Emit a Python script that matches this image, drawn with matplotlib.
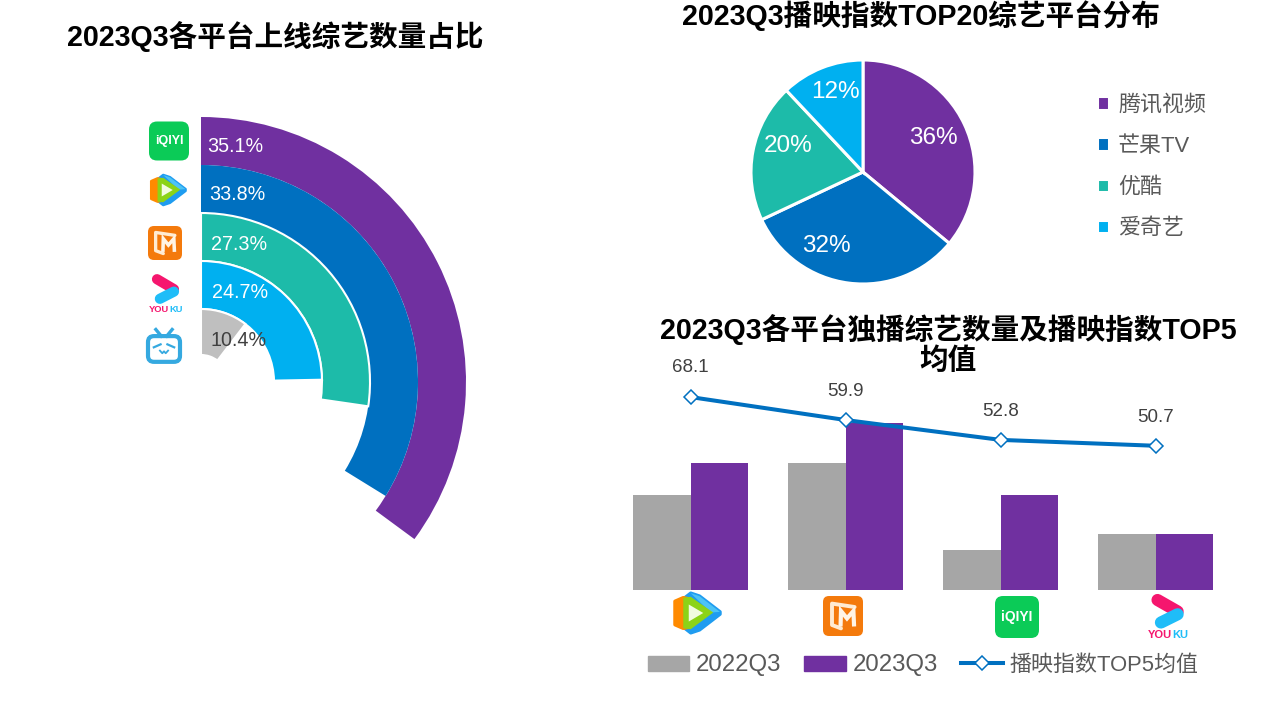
import numpy as np
import matplotlib
matplotlib.use("Agg")
import matplotlib.pyplot as plt
from matplotlib.patches import FancyBboxPatch, Polygon, Patch
from matplotlib.lines import Line2D

plt.rcParams['font.family'] = ['Liberation Sans', 'Noto Sans CJK SC', 'DejaVu Sans']

W, H = 1278, 704

PURPLE = '#7030A0'
BLUE = '#0070C0'
TEAL = '#1DBBA9'
CYAN = '#00B0F0'
LIGHT = '#BFBFBF'
BAR_GRAY = '#A6A6A6'

# radial chart
radial_values = [35.1, 33.8, 27.3, 24.7, 10.4]
radial_colors = [PURPLE, BLUE, TEAL, CYAN, LIGHT]
radial_text = ['white', 'white', 'white', 'white', '#404040']

# pie chart
pie_labels = ['腾讯视频', '芒果TV', '优酷', '爱奇艺']
pie_values = [36, 32, 20, 12]
pie_colors = [PURPLE, BLUE, TEAL, CYAN]

# bars + line
bar_years = ['2022Q3', '2023Q3']
bar_2022 = [12, 16, 5, 7]
bar_2023 = [16, 21, 12, 7]
top5_avg = [68.1, 59.9, 52.8, 50.7]
line_label = '播映指数TOP5均值'

titles = ['2023Q3各平台上线综艺数量占比', '2023Q3播映指数TOP20综艺平台分布',
          '2023Q3各平台独播综艺数量及播映指数TOP5\n均值']


def px_axes(left, top, right, bottom, **kw):
    return fig.add_axes([left / W, 1 - bottom / H, (right - left) / W, (bottom - top) / H], **kw)


def logo_iqiyi(ax, cx, cy, w, h):
    ax.add_patch(FancyBboxPatch((cx - w / 2 + 5, cy - h / 2 + 5), w - 10, h - 10,
                                boxstyle='round,pad=5,rounding_size=8', fc='#0BCB57', ec='none'))
    ax.text(cx, cy, 'iQIYI', color='white', fontweight='bold', fontsize=w * 0.225,
            ha='center', va='center')


def logo_tencent(ax, cx, cy, w, h):
    def pts(p):
        return [(cx + x * w / 2, cy + y * h / 2) for x, y in p]
    lw = w * 0.05
    ax.add_patch(Polygon(pts([(-0.55, -0.62), (-0.25, -0.88), (0.1, -0.75), (0.92, -0.05), (0.92, 0.05),
                              (0.1, 0.75), (-0.25, 0.88), (-0.55, 0.62)]), fc='#1F9CF0', ec='#1F9CF0',
                         lw=lw, joinstyle='round'))
    ax.add_patch(Polygon(pts([(-0.25, -0.88), (0.1, -0.75), (0.92, -0.05), (0.55, -0.02)]), fc='#4CC3F5',
                         ec='none'))
    ax.add_patch(Polygon(pts([(-0.88, -0.52), (-0.55, -0.68), (-0.3, -0.62), (-0.3, 0.62),
                              (-0.55, 0.68), (-0.88, 0.52)]), fc='#FF8A00', ec='#FF8A00', lw=lw,
                         joinstyle='round'))
    ax.add_patch(Polygon(pts([(-0.55, -0.68), (-0.25, -0.72), (0.65, -0.02), (-0.25, 0.72),
                              (-0.55, 0.68)]), fc='#8CD317', ec='none'))
    ax.add_patch(Polygon(pts([(-0.33, -0.38), (0.25, 0), (-0.33, 0.38)]), fc='#F2FBE0', ec='none'))


def logo_mgtv(ax, cx, cy, w, h):
    ax.add_patch(FancyBboxPatch((cx - w / 2 + 4, cy - h / 2 + 4), w - 8, h - 8,
                                boxstyle='round,pad=4,rounding_size=6', fc='#F47A0C', ec='none'))
    frame_x = [0.58, -0.55, -0.55, -0.1]
    frame_y = [-0.45, -0.62, 0.45, 0.62]
    ax.plot([cx + a * w / 2 for a in frame_x], [cy + b * h / 2 for b in frame_y], color='#FFEBD2',
            lw=w * 0.07, solid_joinstyle='round', solid_capstyle='round')
    m_x = [-0.12, -0.1, 0.2, 0.52, 0.55]
    m_y = [0.42, -0.25, 0.12, -0.25, 0.42]
    ax.plot([cx + a * w / 2 for a in m_x], [cy + b * h / 2 for b in m_y], color='#FFF4E6',
            lw=w * 0.075, solid_joinstyle='miter')


def logo_youku(ax, cx, cy, w, h):
    ax.plot([cx - 0.25 * w, cx + 0.28 * w], [cy - 0.37 * h, cy - 0.12 * h], color='#F5166E',
            lw=w * 0.23, solid_capstyle='round')
    ax.plot([cx + 0.28 * w, cx - 0.16 * w], [cy - 0.06 * h, cy + 0.12 * h], color='#1FBDF8',
            lw=w * 0.23, solid_capstyle='round')
    a = ax.text(cx - 0.5 * w, cy + 0.4 * h, 'YOU', color='#F5166E', fontweight='bold',
                fontsize=w * 0.21, ha='left', va='center')
    ax.annotate('KU', xy=(1, 0.5), xycoords=a, color='#1FBDF8', fontweight='bold',
                fontsize=w * 0.21, ha='left', va='center')


def logo_bilibili(ax, cx, cy, w, h):
    c = '#35A9E0'
    ax.add_patch(FancyBboxPatch((cx - w / 2 + 7, cy - h * 0.3 + 6), w - 14, h * 0.78 - 12,
                                boxstyle='round,pad=6,rounding_size=6', fc='white', ec=c, lw=3))
    ax.plot([cx - 0.24 * w, cx - 0.08 * w], [cy - 0.5 * h, cy - 0.3 * h], color=c, lw=2.4)
    ax.plot([cx + 0.24 * w, cx + 0.08 * w], [cy - 0.5 * h, cy - 0.3 * h], color=c, lw=2.4)
    ax.plot([cx - 0.3 * w, cx - 0.1 * w], [cy + 0.04 * h, cy - 0.05 * h], color=c, lw=1.6)
    ax.plot([cx + 0.3 * w, cx + 0.1 * w], [cy + 0.04 * h, cy - 0.05 * h], color=c, lw=1.6)
    ax.plot([cx - 0.12 * w, cx - 0.05 * w, cx, cx + 0.05 * w, cx + 0.12 * w],
            [cy + 0.14 * h, cy + 0.22 * h, cy + 0.16 * h, cy + 0.22 * h, cy + 0.14 * h], color=c, lw=1.3)


fig = plt.figure(figsize=(W / 100, H / 100), dpi=100, facecolor='white')

# radial bars, one pixel per radial unit
R = 270
cx0, cy0 = 201, 382
ax1 = px_axes(cx0 - R, cy0 - R, cx0 + R, cy0 + R, projection='polar')
ax1.set_theta_zero_location('N')
ax1.set_theta_direction(-1)
ax1.set_rlim(0, R)
ax1.set_axis_off()
outer = [265, 217, 169, 121, 73]
dx_lab = [34, 36, 38, 39, 38]
dy_lab = [-5, -5, -7, -7, -8]
for v, c, tc, r, dx, dy in zip(radial_values, radial_colors, radial_text, outer, dx_lab, dy_lab):
    edge = 'none' if c in (PURPLE, BLUE) else 'white'
    ax1.bar(0, 48 if r > 73 else 46, width=v / 100 * 2 * np.pi, bottom=r - (48 if r > 73 else 46),
            align='edge', color=c, edgecolor=edge, linewidth=1.5)
    ax1.annotate(f'{v}%', xy=(0, r - 24), xytext=(dx, dy), textcoords='offset pixels', color=tc,
                 fontsize=14.2, ha='center', va='center')

# pie
ax2 = px_axes(863 - 115, 172 - 115, 863 + 115, 172 + 115)
wedges, _, autotexts = ax2.pie(pie_values, colors=pie_colors, startangle=90, counterclock=False,
                               autopct='%d%%', radius=1,
                               wedgeprops=dict(edgecolor='white', linewidth=2.2),
                               textprops=dict(color='white', fontsize=17.5))
ax2.set_xlim(-115 / 112, 115 / 112)
ax2.set_ylim(-115 / 112, 115 / 112)
for t, xy in zip(autotexts, [(0.625, 0.305), (-0.33, -0.66), (-0.67, 0.23), (-0.25, 0.71)]):
    t.set_position(xy)
fig.legend(wedges, pie_labels, loc='upper left', bbox_to_anchor=(1077 / W, 1 - 75 / H), frameon=False,
           fontsize=15.8, labelcolor='#595959', handlelength=0.56, handleheight=0.56,
           handletextpad=0.42, labelspacing=0.92, borderpad=0.4)

# bars and line
x = np.arange(len(bar_2022))
ax3 = px_axes(613, 350, 1233, 590)
ax3.bar(x - 0.187, bar_2022, width=0.374, color=BAR_GRAY)
ax3.bar(x + 0.187, bar_2023, width=0.374, color=PURPLE)
ax3.set_xlim(-0.5, 3.5)
ax3.set_ylim(0, 240 / 7.95)
ax3.set_axis_off()
ax4 = ax3.twinx()
ax4.plot(x, top5_avg, color=BLUE, lw=2.9, marker='D', ms=7.2, mfc='white', mec=BLUE, mew=1.1)
ax4.set_ylim(-0.8, 84.9)
ax4.set_axis_off()
for i, (v, off) in enumerate(zip(top5_avg, [30, 29, 28, 28])):
    ax4.annotate(f'{v}', xy=(i, v), xytext=(0, off), textcoords='offset pixels', ha='center', va='center',
                 fontsize=13.5, color='#404040')
handles = [Patch(color=BAR_GRAY, label=bar_years[0]), Patch(color=PURPLE, label=bar_years[1]),
           Line2D([], [], color=BLUE, lw=2.9, marker='D', ms=7.2, mfc='white', mec=BLUE, mew=1.1,
                  label=line_label)]
leg = fig.legend(handles=handles, loc='center left', bbox_to_anchor=(628 / W, 1 - 665 / H), ncol=3, frameon=False,
                 fontsize=15.8, labelcolor='#595959', handlelength=1.9, handleheight=0.65,
                 handletextpad=0.3, columnspacing=1.05)
for t in leg.get_texts()[:2]:
    t.set_fontsize(17.3)

# overlay in pixel coordinates for titles and logos
ov = fig.add_axes([0, 0, 1, 1], zorder=10)
ov.set_xlim(0, W)
ov.set_ylim(H, 0)
ov.set_axis_off()
ov.patch.set_alpha(0)
for txt, xc, yc in zip(titles, [275, 921, 948], [36, 16, 329]):
    for i, line in enumerate(txt.split('\n')):
        ov.text(xc, yc + i * 32, line, fontsize=20.6, fontweight='bold', ha='center', va='center', color='black')

logo_iqiyi(ov, 169, 141, 40, 39)
logo_tencent(ov, 168, 190, 38, 34)
logo_mgtv(ov, 165, 243, 34, 34)
logo_youku(ov, 165, 294, 32, 40)
logo_bilibili(ov, 164, 346, 34, 33)
logo_tencent(ov, 697, 613, 50, 45)
logo_mgtv(ov, 843, 616, 40, 40)
logo_iqiyi(ov, 1017, 617, 44, 42)
logo_youku(ov, 1167, 617, 38, 46)

fig.savefig('out.png', dpi=100)
